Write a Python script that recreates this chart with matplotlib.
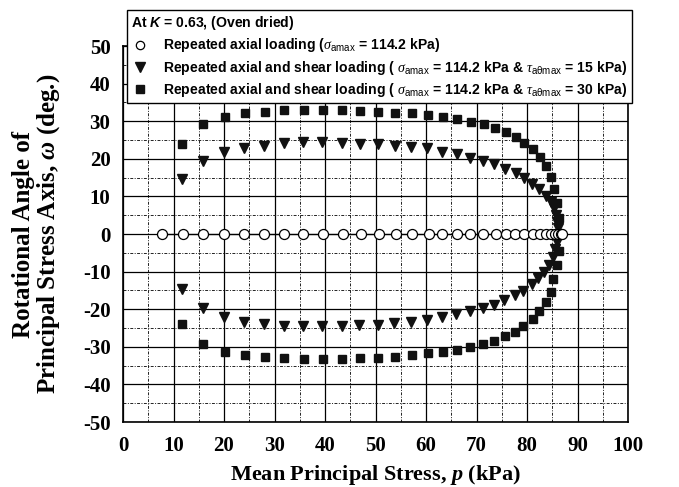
import matplotlib
matplotlib.use("Agg")
import matplotlib.pyplot as plt
from matplotlib.lines import Line2D

plt.rcParams["mathtext.fontset"] = "custom"
plt.rcParams["mathtext.rm"] = "Liberation Sans"
plt.rcParams["mathtext.it"] = "Liberation Serif:italic"
plt.rcParams["mathtext.bf"] = "Liberation Serif:bold"
plt.rcParams["mathtext.bfit"] = "Liberation Serif:italic:bold"
plt.rcParams["mathtext.sf"] = "Liberation Sans:italic:bold"

# Repeated axial loading (omega stays at zero)
p_axial = [7.7, 11.8, 15.9, 20.0, 24.0, 27.9, 31.9, 35.7, 39.7, 43.5, 47.1, 50.6,
           54.1, 57.2, 60.5, 63.2, 66.1, 68.7, 71.3, 73.8, 75.8, 77.7, 79.5, 81.1,
           82.6, 83.8, 84.8, 85.5, 86.2, 86.7, 87.0]
w_axial = [0.0] * len(p_axial)

# Axial + shear loading, tau = 15 kPa
p_t15_up = [11.6, 15.9, 20.0, 24.0, 27.9, 31.9, 35.7, 39.5, 43.3, 46.9, 50.4, 53.8,
            57.1, 60.1, 63.2, 66.1, 68.7, 71.2, 73.5, 75.6, 77.8, 79.4, 81.0, 82.4,
            83.7, 84.7, 85.3, 85.7, 86.0, 86.1]
w_t15_up = [14.5, 19.4, 21.9, 23.0, 23.5, 24.1, 24.4, 24.4, 24.3, 23.9, 23.9, 23.5,
            23.2, 22.8, 21.9, 21.2, 20.1, 19.4, 18.6, 17.3, 16.1, 14.8, 13.3, 11.9,
            10.1, 8.6, 6.8, 5.1, 3.3, 1.5]
p_t15_lo = [11.6, 15.9, 20.0, 24.0, 27.9, 31.9, 35.7, 39.5, 43.3, 46.8, 50.4, 53.7,
            57.0, 60.1, 63.1, 65.9, 68.7, 71.2, 73.5, 75.5, 77.6, 79.3, 80.9, 82.2,
            83.4, 84.4, 85.1, 85.6, 85.9]
w_t15_lo = [-14.7, -19.6, -22.2, -23.4, -23.9, -24.4, -24.6, -24.6, -24.6, -24.2,
            -24.2, -23.8, -23.3, -22.9, -22.2, -21.3, -20.4, -19.6, -18.9, -17.6,
            -16.2, -15.1, -13.4, -11.8, -10.0, -8.2, -6.0, -4.0, -2.0]

# Axial + shear loading, tau = 30 kPa
p_t30_up = [11.7, 15.9, 20.1, 24.1, 28.1, 31.9, 35.8, 39.7, 43.4, 46.9, 50.4, 53.9,
            57.2, 60.3, 63.3, 66.2, 68.9, 71.5, 73.7, 75.8, 77.8, 79.4, 81.1, 82.6,
            83.7, 84.7, 85.3, 85.9, 86.3]
w_t30_up = [23.9, 29.3, 31.2, 32.1, 32.5, 33.0, 33.0, 33.0, 33.0, 32.8, 32.5, 32.2,
            32.1, 31.6, 31.2, 30.5, 29.9, 29.3, 28.1, 27.2, 25.9, 24.3, 22.5, 20.6,
            18.1, 15.1, 11.9, 8.2, 4.2]
p_t30_lo = [11.7, 15.9, 20.1, 24.1, 28.1, 31.9, 35.8, 39.7, 43.4, 46.9, 50.5, 53.9,
            57.2, 60.3, 63.3, 66.1, 68.8, 71.3, 73.5, 75.6, 77.6, 79.3, 81.1, 82.4,
            83.7, 84.7, 85.2, 85.9, 86.3]
w_t30_lo = [-24.0, -29.3, -31.3, -32.2, -32.8, -33.0, -33.2, -33.2, -33.2, -32.9,
            -32.9, -32.6, -32.2, -31.7, -31.3, -30.9, -30.1, -29.3, -28.4, -27.1,
            -26.0, -24.5, -22.7, -20.5, -18.0, -15.3, -12.0, -8.2, -4.4]

x_ticks = [0, 10, 20, 30, 40, 50, 60, 70, 80, 90, 100]
y_ticks = [-50, -40, -30, -20, -10, 0, 10, 20, 30, 40, 50]

legend_title = r"At $\mathsf{K}$ = 0.63, (Oven dried)"
label_axial = r"Repeated axial loading ($\sigma_{\rm amax}$ = 114.2 kPa)"
label_t15 = (r"Repeated axial and shear loading ( $\sigma_{\rm amax}$ = 114.2 kPa & "
             r"$\tau_{\rm a\theta max}$ = 15 kPa)")
label_t30 = (r"Repeated axial and shear loading ( $\sigma_{\rm amax}$ = 114.2 kPa & "
             r"$\tau_{\rm a\theta max}$ = 30 kPa)")

fig = plt.figure(figsize=(6.79, 4.87), dpi=100)
ax = fig.add_axes([123 / 679, 1 - 422 / 487, (628 - 123) / 679, (422 - 46) / 487])

ax.set_xlim(0, 100)
ax.set_ylim(-50, 50)
ax.set_xticks(x_ticks)
ax.set_yticks(y_ticks)
ax.set_xticks(range(5, 100, 10), minor=True)
ax.set_yticks(range(-45, 50, 10), minor=True)

ax.grid(which="major", color="black", linewidth=0.9, linestyle="-")
ax.grid(which="minor", color="#222222", linewidth=0.7, linestyle=(0, (3, 1.5, 1, 1.5)))
ax.set_axisbelow(True)
ax.tick_params(which="both", length=0)
ax.tick_params(axis="x", pad=10)
ax.tick_params(axis="y", pad=9)
for s in ax.spines.values():
    s.set_linewidth(1.2)

tick_font = dict(family="Liberation Serif", weight="bold", size=15)
ax.set_xticklabels([str(v) for v in x_ticks], fontdict=tick_font)
ax.set_yticklabels([str(v) for v in y_ticks], fontdict=tick_font)

ax.plot(p_t30_up, w_t30_up, "s", color="#111111", ms=6.4, zorder=3)
ax.plot(p_t30_lo, w_t30_lo, "s", color="#111111", ms=6.4, zorder=3)
ax.plot(p_t15_up, w_t15_up, "v", color="#111111", ms=7.5, zorder=3)
ax.plot(p_t15_lo, w_t15_lo, "v", color="#111111", ms=7.5, zorder=3)
ax.plot(p_axial, w_axial, "-o", color="black", lw=0.9, ms=7.2,
        markerfacecolor="white", markeredgewidth=0.9, zorder=4)

ax.set_xlabel(r"Mean Principal Stress, $\mathbfit{p}$ (kPa)",
              fontdict=dict(family="Liberation Serif", weight="bold", size=16),
              labelpad=5)
ax.set_ylabel("Rotational Angle of\n" + r"Principal Stress Axis, $\mathbfit{\omega}$ (deg.)",
              fontdict=dict(family="Liberation Serif", weight="bold", size=18),
              labelpad=15, linespacing=1.0)

handles = [
    Line2D([], [], ls="none", marker="o", ms=6, mfc="white", mec="black", mew=0.9),
    Line2D([], [], ls="none", marker="v", ms=7, color="#111111"),
    Line2D([], [], ls="none", marker="s", ms=6, color="#111111"),
]
leg = ax.legend(handles, [label_axial, label_t15, label_t30],
                title=legend_title, loc="upper left",
                bbox_to_anchor=(127 / 679, 1 - 10 / 487), bbox_transform=fig.transFigure,
                borderaxespad=0, fancybox=False, framealpha=1, edgecolor="black",
                prop=dict(family="Liberation Sans", weight="bold", size=10.1),
                title_fontproperties=dict(family="Liberation Sans", weight="bold", size=10.1),
                alignment="left", handlelength=1.2, handletextpad=1.1,
                labelspacing=0.3, borderpad=0.3)
leg.get_frame().set_linewidth(1.0)
leg.set_zorder(10)

fig.savefig("out.png", dpi=100)
